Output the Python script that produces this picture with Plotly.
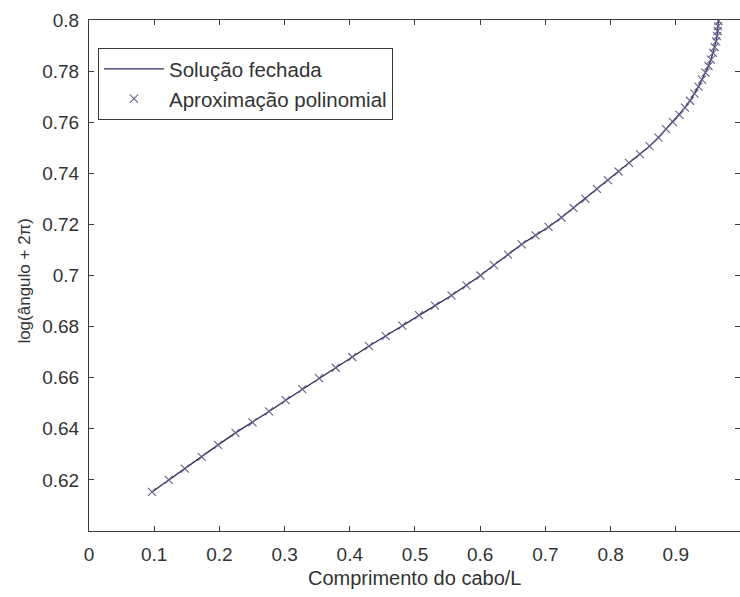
import plotly.graph_objects as go

# Cable length (normalised by L) and log10(angle + 2*pi) along the curve
comprimento = [0.0966, 0.1222, 0.1472, 0.1729, 0.1979, 0.2247, 0.2508, 0.2761,
               0.3017, 0.3271, 0.3528, 0.3784, 0.4038, 0.4294, 0.4551, 0.4805,
               0.5061, 0.5307, 0.5560, 0.5790, 0.6005, 0.6212, 0.6426, 0.6637,
               0.6848, 0.7048, 0.7247, 0.7431, 0.7615, 0.7791, 0.7960, 0.8121,
               0.8282, 0.8451, 0.8597, 0.8735, 0.8850, 0.8957, 0.9057, 0.9141,
               0.9218, 0.9287, 0.9348, 0.9402, 0.9456, 0.9502, 0.9540, 0.9571,
               0.9597, 0.9617, 0.9632, 0.9643, 0.9650, 0.9655]
log_angulo = [0.6153, 0.6200, 0.6244, 0.6290, 0.6337, 0.6384, 0.6425, 0.6468,
              0.6512, 0.6555, 0.6598, 0.6639, 0.6681, 0.6724, 0.6763, 0.6804,
              0.6845, 0.6882, 0.6922, 0.6961, 0.7000, 0.7041, 0.7082, 0.7122,
              0.7157, 0.7190, 0.7227, 0.7265, 0.7300, 0.7339, 0.7373, 0.7407,
              0.7441, 0.7475, 0.7506, 0.7540, 0.7573, 0.7600, 0.7629, 0.7657,
              0.7684, 0.7712, 0.7739, 0.7767, 0.7794, 0.7820, 0.7845, 0.7871,
              0.7894, 0.7916, 0.7937, 0.7957, 0.7976, 0.7996]

x_ticks = [0, 0.1, 0.2, 0.3, 0.4, 0.5, 0.6, 0.7, 0.8, 0.9, 1.0]
x_labels = ["0", "0.1", "0.2", "0.3", "0.4", "0.5", "0.6", "0.7", "0.8", "0.9", "1"]
y_ticks = [0.62, 0.64, 0.66, 0.68, 0.70, 0.72, 0.74, 0.76, 0.78, 0.80]
y_labels = ["0.62", "0.64", "0.66", "0.68", "0.7", "0.72", "0.74", "0.76", "0.78", "0.8"]

FONT = "Arial, Liberation Sans, sans-serif"
TXT = "#333333"
AX = "#3a3a3a"

fig = go.Figure()
fig.add_trace(go.Scatter(
    x=comprimento, y=log_angulo, mode="lines", name="Solução fechada",
    line=dict(color="#2a2a58", width=1.3),
))
fig.add_trace(go.Scatter(
    x=comprimento, y=log_angulo, mode="markers", name="Aproximação polinomial",
    marker=dict(symbol="x-thin", size=8, line=dict(width=1.1, color="#62628a")),
))

axis_common = dict(
    showgrid=False, zeroline=False, showline=True, linecolor=AX, linewidth=1,
    mirror="ticks", ticks="inside", ticklen=5, tickcolor=AX, tickwidth=1,
    tickfont=dict(family=FONT, size=19, color=TXT),
)

fig.update_xaxes(range=[0, 0.9985], tickvals=x_ticks, ticktext=x_labels,
                 ticklabelstandoff=6, **axis_common)
fig.update_yaxes(range=[0.6, 0.8], tickvals=y_ticks, ticktext=y_labels,
                 ticklabelstandoff=5, **axis_common)

fig.add_annotation(
    text="Comprimento do cabo/L", xref="paper", yref="paper",
    x=0.5, y=0, yshift=-47, xanchor="center", yanchor="middle",
    showarrow=False, font=dict(family=FONT, size=20, color=TXT),
)
fig.add_annotation(
    text="log(ângulo + 2π)", xref="paper", yref="paper",
    x=0, xshift=-64, y=0.49, xanchor="center", yanchor="middle", textangle=-90,
    showarrow=False, font=dict(family=FONT, size=17, color=TXT),
)

fig.update_layout(
    width=740, height=597,
    margin=dict(l=89, r=0, t=20, b=66),
    paper_bgcolor="white", plot_bgcolor="white",
    showlegend=True,
    legend=dict(
        x=0.0138, y=0.945, xanchor="left", yanchor="top",
        bgcolor="white", bordercolor=AX, borderwidth=1,
        font=dict(family=FONT, size=20.5, color=TXT),
        itemwidth=60, tracegroupgap=0,
    ),
)

fig.write_html("out.html")
